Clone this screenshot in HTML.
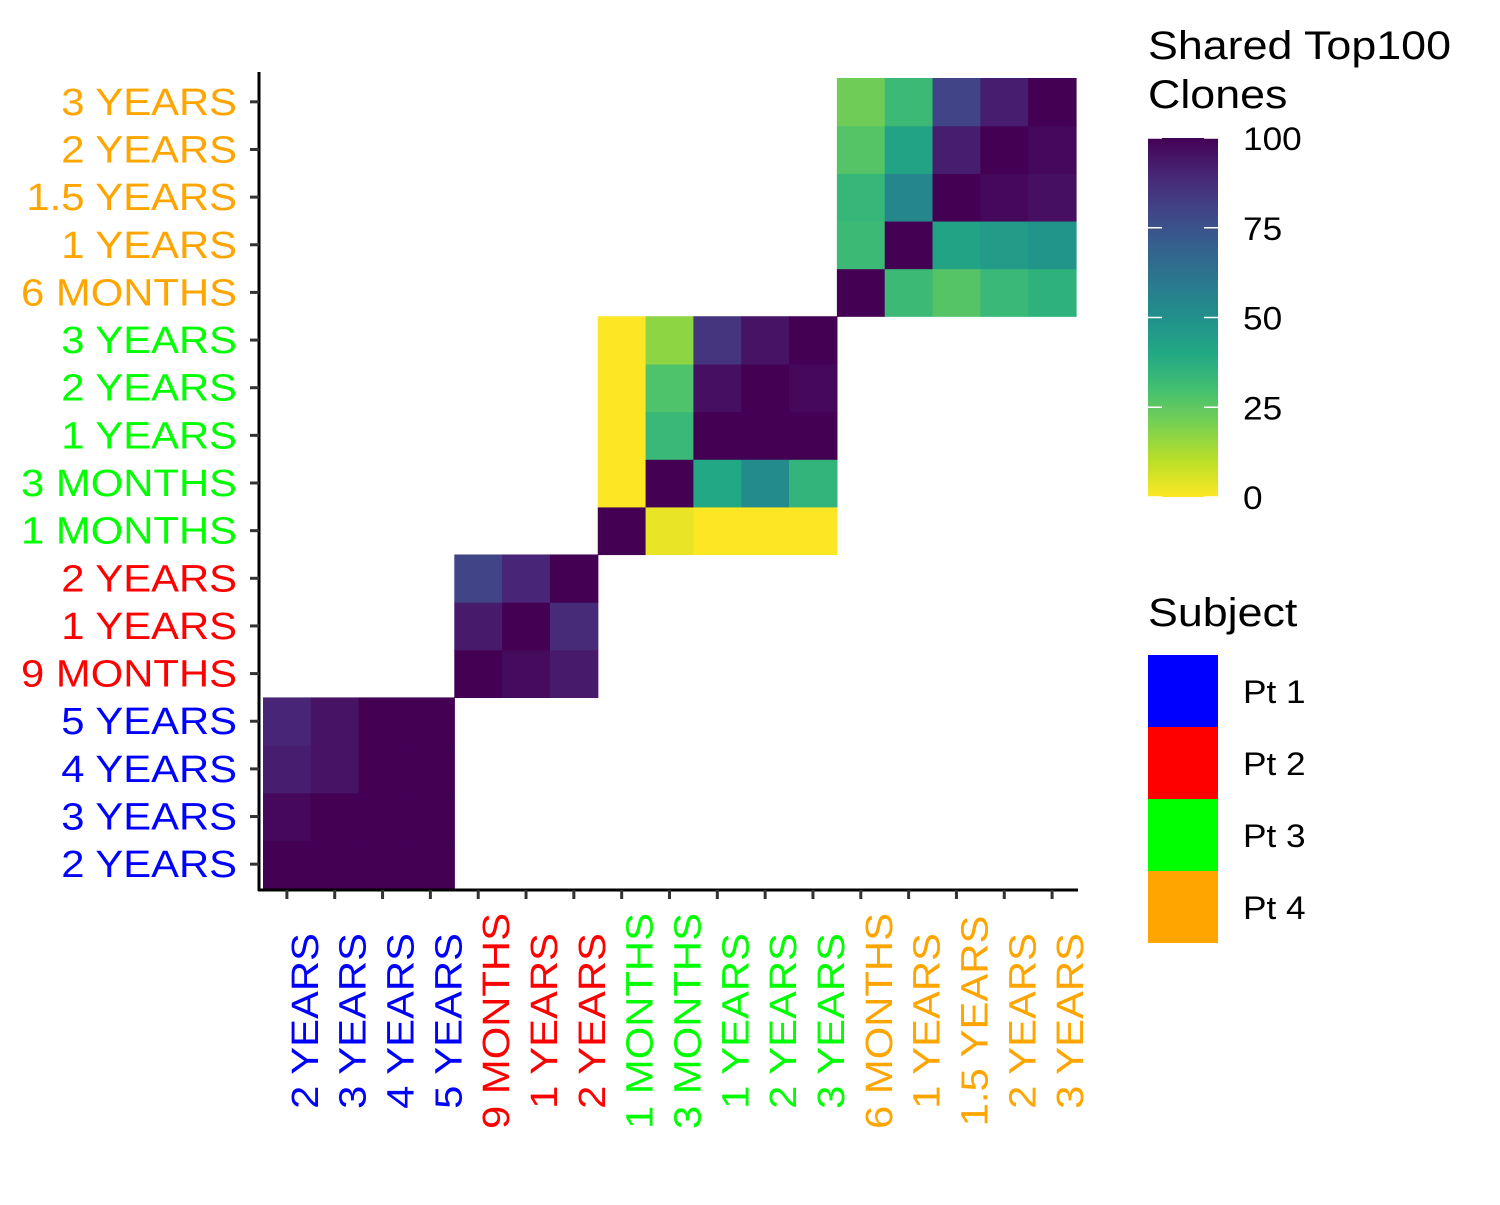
<!DOCTYPE html>
<html><head><meta charset="utf-8"><style>
body{margin:0;background:#fff;}
svg text{font-family:"Liberation Sans",sans-serif;}
</style></head><body>
<svg id="chart" width="1500" height="1200" xmlns="http://www.w3.org/2000/svg">
<defs>
<linearGradient id="vg" x1="0" y1="1" x2="0" y2="0">
<stop offset="0" stop-color="#FDE725"/><stop offset="0.1" stop-color="#BBDF27"/><stop offset="0.2" stop-color="#7AD151"/><stop offset="0.3" stop-color="#43BF71"/><stop offset="0.4" stop-color="#22A884"/><stop offset="0.5" stop-color="#21908C"/><stop offset="0.6" stop-color="#2A788E"/><stop offset="0.7" stop-color="#35608D"/><stop offset="0.8" stop-color="#414487"/><stop offset="0.9" stop-color="#482576"/><stop offset="1" stop-color="#440154"/>
</linearGradient>
</defs>
<g id="cells"></g>
<g id="axes"></g>
<text transform="translate(1148,59) scale(1.12,1)" font-size="40">Shared Top100</text>
<text transform="translate(1148,108) scale(1.12,1)" font-size="40">Clones</text>
<rect x="1148" y="138" width="70" height="359" fill="url(#vg)"/>
<g id="cbticks"></g>
<text transform="translate(1148,626) scale(1.12,1)" font-size="40">Subject</text>
<g id="subj"></g>
</svg>
<script>
const labels=["2 YEARS","3 YEARS","4 YEARS","5 YEARS","9 MONTHS","1 YEARS","2 YEARS","1 MONTHS","3 MONTHS","1 YEARS","2 YEARS","3 YEARS","6 MONTHS","1 YEARS","1.5 YEARS","2 YEARS","3 YEARS"];
const subjects=[0,0,0,0,1,1,1,2,2,2,2,2,3,3,3,3,3];
const subjectNames=["Pt 1","Pt 2","Pt 3","Pt 4"];
const subjectColors=["#0000FF","#FF0000","#00FF00","#FFA500"];
// rows indexed from bottom within each subject block
const pt1Rows=[[100,100,100,100],[98,100,100,100],[92,95,100,100],[90,95,100,100]];
const pt2Rows=[[100,97,93],[93,100,88],[80,90,100]];
const pt3Rows=[[100,3,0,0,0],[0,100,40,52,35],[0,33,100,100,100],[0,28,96,100,98],[0,17,85,95,100]];
const pt4Rows=[[100,32,27,33,36],[32,100,42,45,48],[34,54,100,98,96],[27,42,92,100,98],[22,32,80,92,100]];
const cbTicks=[0,25,50,75,100];

const NS="http://www.w3.org/2000/svg";
const x0=263,x1=1076,yTop=78,yBot=888,n=labels.length;
const cw=(x1-x0)/n,ch=(yBot-yTop)/n;
const xPos=i=>x0+i*cw;
const yPos=i=>yBot-(i+1)*ch;
const hex=["#FDE725","#BBDF27","#7AD151","#43BF71","#22A884","#21908C","#2A788E","#35608D","#414487","#482576","#440154"].map(h=>[1,3,5].map(k=>parseInt(h.substr(k,2),16)));
function col(v){const t=Math.max(0,Math.min(1,v/100))*10;const i=Math.min(9,Math.floor(t)),f=t-i;const c=hex[i].map((x,k)=>Math.round(x+(hex[i+1][k]-x)*f));return `rgb(${c})`;}
function mk(tag,at,parent,txt){const e=document.createElementNS(NS,tag);for(const k in at)e.setAttribute(k,at[k]);if(txt!==undefined)e.textContent=txt;parent.appendChild(e);return e;}
const cells=document.getElementById('cells');
[[pt1Rows,0],[pt2Rows,4],[pt3Rows,7],[pt4Rows,12]].forEach(([rows,s])=>{
 rows.forEach((r,ri)=>r.forEach((v,ci)=>{
  const e=mk('rect',{x:xPos(s+ci),y:yPos(s+ri),width:cw+0.6,height:ch+0.6,fill:col(v)},cells);
  
  
 }));
});
const ax=document.getElementById('axes');
let e=mk('line',{x1:259,y1:72,x2:259,y2:891,stroke:'#000','stroke-width':3},ax);

e=mk('line',{x1:258,y1:890,x2:1078,y2:890,stroke:'#000','stroke-width':3},ax);

labels.forEach((l,i)=>{
 const yc=yPos(i)+ch/2, xc=xPos(i)+cw/2, c=subjectColors[subjects[i]];
 mk('line',{x1:250,y1:yc,x2:259,y2:yc,stroke:'#333','stroke-width':3},ax);
 let t=mk('text',{'text-anchor':'end','font-size':38,fill:c,transform:`translate(237,${yc+13}) scale(1.1,1)`},ax,l);
 
 mk('line',{x1:xc,y1:890,x2:xc,y2:899,stroke:'#333','stroke-width':3},ax);
 t=mk('text',{x:0,y:0,'text-anchor':'middle','font-size':38,fill:c,transform:`translate(${xc+31},1021) rotate(-90) scale(1.1,1)`},ax,l);
 
});
const cb=document.getElementById('cbticks');
cbTicks.forEach(v=>{
 const y=497-v/100*359;
 mk('line',{x1:1148,y1:y,x2:1162,y2:y,stroke:'#fff','stroke-width':1.5},cb);
 mk('line',{x1:1204,y1:y,x2:1218,y2:y,stroke:'#fff','stroke-width':1.5},cb);
 const t=mk('text',{'font-size':32,transform:`translate(1243,${y+12}) scale(1.1,1)`},cb,String(v));
 
});
const sg=document.getElementById('subj');
subjectNames.forEach((s,i)=>{
 const y=655+i*72;
 let r=mk('rect',{x:1148,y:y,width:70,height:72,fill:subjectColors[i]},sg);
 
 const t=mk('text',{'font-size':32,transform:`translate(1243,${y+48}) scale(1.1,1)`},sg,s);
 
});
</script>
</body></html>
